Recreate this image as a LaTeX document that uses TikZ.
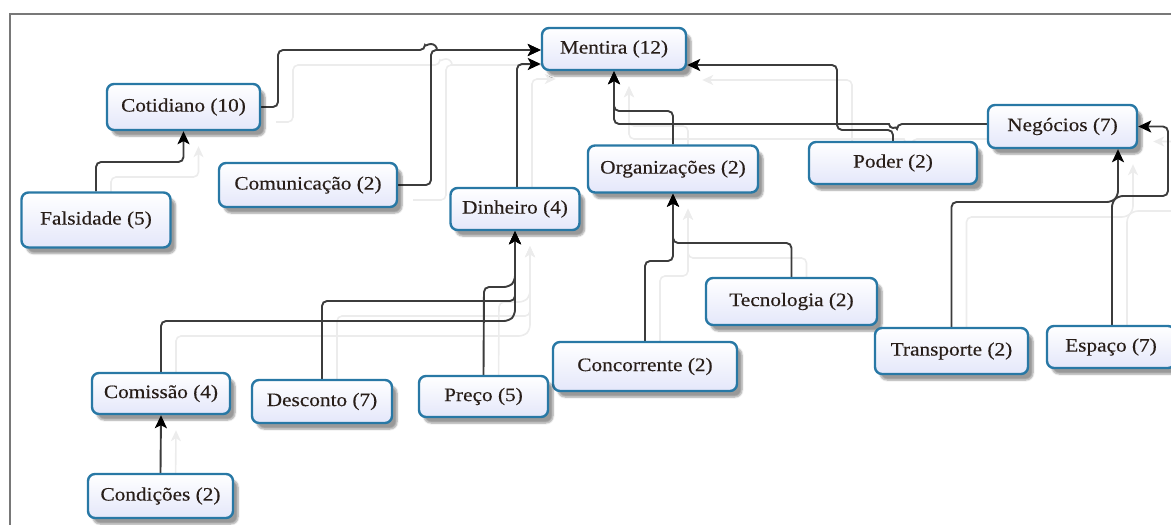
\documentclass[tikz,border=0pt]{standalone}
\usepackage{fontspec}
\setmainfont{Liberation Serif}[FakeStretch=1.12,FakeBold=0.35]
\usetikzlibrary{arrows.meta,shadows.blur}
\definecolor{bord}{RGB}{40,120,165}
\definecolor{boxbot}{RGB}{228,231,250}
\definecolor{conncol}{RGB}{60,60,60}
\definecolor{ghostcol}{RGB}{236,236,236}
\definecolor{txt}{RGB}{40,30,25}
\definecolor{framegray}{RGB}{120,120,120}
\pgfdeclarelayer{bg}
\pgfsetlayers{bg,main}
\tikzset{
 box/.style={draw=bord, line width=2.4pt, rounded corners=7pt, top color=white, bottom color=boxbot,
   text=txt, font=\fontsize{19}{22}\selectfont, inner sep=0pt,
   blur shadow={shadow xshift=5pt, shadow yshift=-6pt, shadow blur steps=6, shadow opacity=40}},
 conn/.style={draw=conncol, line width=1.9pt, rounded corners=5pt, -{Stealth[length=13pt,width=12pt,inset=3pt,color=black]}},
 ghost/.style={draw=ghostcol, line width=1.6pt, rounded corners=5pt, -{Stealth[length=11pt,width=10pt,inset=3pt]}},
}
\newcommand\allconnectors[1]{%
 \draw[#1] (fal.north) -- (96,162) -| (cot.south);
 \draw[#1] (cot.east) -- (278,107) -- (278,50) -- (425,50) [sharp corners] arc[start angle=180,end angle=360,radius=6] -- (men.west |- 0,50);
 \draw[#1] (com.east) -- (431,185) -- (431,50) -- (men.west |- 0,50);
 \draw[#1] ([xshift=2pt]din.north) -- (517,64) -- (men.west |- 0,64);
 \draw[#1] (org.north) -- (673,111) -| (men.south);
 \draw[#1] ([yshift=2.5pt]neg.west) -- (897,124) [sharp corners] arc[start angle=0,end angle=180,radius=4] [rounded corners=5pt] -- (614,124) -- (men.south);
 \draw[#1] (pod.north) -- (893,130) -- (837,130) -- (837,65) -- (men.east |- 0,65);
 \draw[#1] (tec.north) -- (791.5,243) -| (org.south);
 \draw[#1] (con.north) -- (645,261) -| (org.south);
 \draw[#1] (tra.north) -- (951.5,202) -- (1112,202) -- (1118,196) -- (1168,196) -- (1168,126.5) -- (neg.east);
 \draw[#1] ([xshift=1pt]esp.north) -- (1112,202) -- (1118,196) -- (neg.south -| 1118,0);
 \draw[#1] (cms.north) -- (161,321) -- (509,321) -- (515,315) -- (din.south);
 \draw[#1] (des.north) -- (322,301) -- (515,301) -- (din.south);
 \draw[#1] (pre.north) -- (484,287) -- (509,287) -- (515,281) -- (din.south);
 \draw[#1] (cnd.north) -- (cms.south);
}
\begin{document}
\begin{tikzpicture}[x=1pt,y=-1pt]
\useasboundingbox (0,0) rectangle (1171,525);
\draw[framegray, line width=2pt] (10,525) -- (10,14) -- (1171,14);

\node[box, minimum width=144pt, minimum height=42pt] (men) at (614,49) {Mentira (12)};
\node[box, minimum width=153pt, minimum height=46pt] (cot) at (183.5,107) {Cotidiano (10)};
\node[box, minimum width=149pt, minimum height=55pt] (fal) at (96,220) {Falsidade (5)};
\node[box, minimum width=178pt, minimum height=44pt] (com) at (308,185) {Comunicação (2)};
\node[box, minimum width=129pt, minimum height=42pt] (din) at (515,209) {Dinheiro (4)};
\node[box, minimum width=170pt, minimum height=47pt] (org) at (673,169) {Organizações (2)};
\node[box, minimum width=168pt, minimum height=42pt] (pod) at (893,163) {Poder (2)};
\node[box, minimum width=149pt, minimum height=43pt] (neg) at (1062.5,126.5) {Negócios (7)};
\node[box, minimum width=171pt, minimum height=47pt] (tec) at (791.5,301.5) {Tecnologia (2)};
\node[box, minimum width=184pt, minimum height=49pt] (con) at (645,366.5) {Concorrente (2)};
\node[box, minimum width=153pt, minimum height=46pt] (tra) at (951.5,351) {Transporte (2)};
\node[box, minimum width=128pt, minimum height=42pt] (esp) at (1111,347) {Espaço (7)};
\node[box, minimum width=138pt, minimum height=41pt] (cms) at (161,393.5) {Comissão (4)};
\node[box, minimum width=140pt, minimum height=43pt] (des) at (322,401.5) {Desconto (7)};
\node[box, minimum width=129pt, minimum height=41pt] (pre) at (483.5,396.5) {Preço (5)};
\node[box, minimum width=145pt, minimum height=44pt] (cnd) at (160.5,496) {Condições (2)};

\begin{pgfonlayer}{bg}
 \begin{scope}[transform canvas={shift={(15pt,-15pt)}}]
  \allconnectors{ghost}
 \end{scope}
 \allconnectors{conn}
\end{pgfonlayer}
\end{tikzpicture}
\end{document}
